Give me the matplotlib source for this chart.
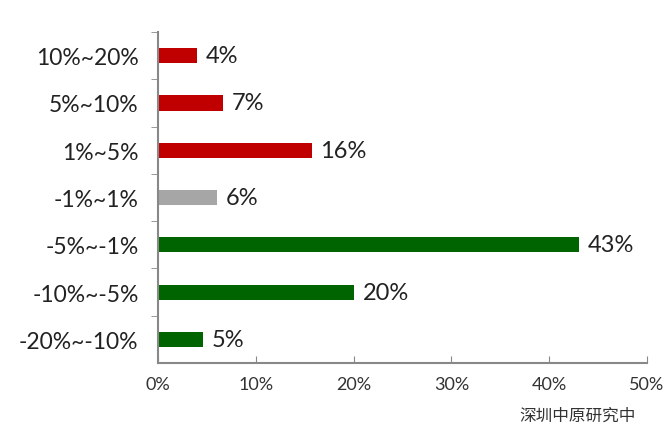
import matplotlib
matplotlib.use("Agg")
from matplotlib import pyplot as plt
from matplotlib.ticker import FuncFormatter

categories = ["10%~20%", "5%~10%", "1%~5%", "-1%~1%", "-5%~-1%", "-10%~-5%", "-20%~-10%"]
values = [4.0, 6.6, 15.7, 6.0, 43.0, 20.0, 4.6]
labels = ["4%", "7%", "16%", "6%", "43%", "20%", "5%"]
colors = ["#c00000", "#c00000", "#c00000", "#a6a6a6", "#006400", "#006400", "#006400"]
xticks = [0, 10, 20, 30, 40, 50]

plt.rcParams['font.family'] = ['Lato', 'DejaVu Sans']
fig = plt.figure(figsize=(6.68, 4.39), dpi=100)
ax = fig.add_axes([0.2365, 0.1708, 0.7321, 0.754])

pos = list(range(len(categories)))[::-1]
ax.barh(pos, values, height=0.32, color=colors)
for p, v, s in zip(pos, values, labels):
    ax.text(v + 0.9, p, s, va="center", ha="left", fontsize=17, color="#222222")

ax.set_ylim(-0.5, len(categories) - 0.5)
ax.set_xlim(0, 50)
ax.set_yticks(pos)
ax.set_yticklabels(categories, fontsize=16.5, color="#222222")
ax.set_yticks([p + 0.5 for p in pos], minor=True)
ax.tick_params(axis="y", which="major", length=0, pad=14)
ax.tick_params(axis="y", which="minor", length=5, color="#888888", direction="out")
ax.set_xticks(xticks)
ax.xaxis.set_major_formatter(FuncFormatter(lambda x, _: "{0}%".format(int(x))))
ax.tick_params(axis="x", length=5, direction="in", color="#888888", labelsize=13, labelcolor="#333333", pad=9)

for side in ("top", "right"):
    ax.spines[side].set_visible(False)
for side in ("left", "bottom"):
    ax.spines[side].set_color("#888888")
    ax.spines[side].set_linewidth(1.5)

fig.text(0.952, 0.052, "深圳中原研究中", ha="right", va="center", fontsize=12,
         color="#333333", family=["Noto Sans CJK SC", "DejaVu Sans"])

plt.savefig("out.png")
